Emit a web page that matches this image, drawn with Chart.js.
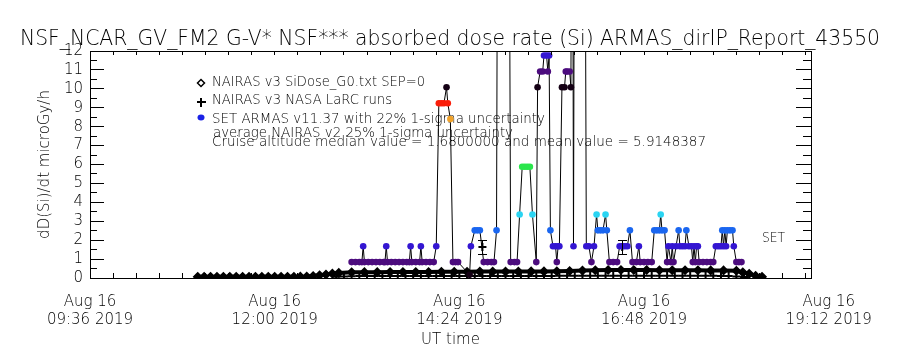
<!DOCTYPE html>
<html>
<head>
<meta charset="utf-8">
<title>ARMAS absorbed dose rate</title>
<script src="https://cdn.jsdelivr.net/npm/chart.js@4.4.1/dist/chart.umd.min.js"></script>
<style>
  html, body { margin: 0; padding: 0; background: #fff; }
  canvas { display: block; }
</style>
</head>
<body>
<canvas id="doseChart" width="900" height="350"></canvas>
<script>
// Axis ticks (UT on Aug 16 2019, dose rate in microGy/h)
const xTickHours = [9.6, 12.0, 14.4, 16.8, 19.2];
const xTickLabels = ['09:36', '12:00', '14:24', '16:48', '19:12'];
const yTicks = [0, 1, 2, 3, 4, 5, 6, 7, 8, 9, 10, 11, 12];

// NAIRAS v3 SiDose_G0.txt (diamonds)
const nairasTime = [
  '11:00', '11:05', '11:10', '11:15', '11:20', '11:25', '11:30', '11:35', '11:40', '11:45',
  '11:50', '11:55', '12:00', '12:05', '12:10', '12:15', '12:20', '12:25', '12:30', '12:35',
  '12:40', '12:45', '12:50', '13:00', '13:10', '13:20', '13:30', '13:40', '13:50', '14:00',
  '14:10', '14:20', '14:30', '14:40', '14:50', '15:00', '15:10', '15:20', '15:30', '15:40',
  '15:50', '16:00', '16:10', '16:20', '16:30', '16:40', '16:50', '17:00', '17:10', '17:20',
  '17:30', '17:40', '17:50', '18:00', '18:05', '18:10', '18:15', '18:20'
];
const nairasDose = [
  0.06, 0.06, 0.06, 0.06, 0.06, 0.06, 0.06, 0.06, 0.06, 0.06,
  0.06, 0.06, 0.06, 0.06, 0.06, 0.06, 0.07, 0.08, 0.10, 0.14,
  0.18, 0.23, 0.27, 0.30, 0.31, 0.31, 0.32, 0.32, 0.32, 0.32,
  0.33, 0.33, 0.33, 0.34, 0.34, 0.34, 0.34, 0.35, 0.35, 0.36,
  0.37, 0.39, 0.41, 0.42, 0.42, 0.42, 0.42, 0.41, 0.41, 0.41,
  0.41, 0.40, 0.40, 0.38, 0.30, 0.22, 0.12, 0.06
];

// NAIRAS v3 NASA LaRC runs (+)
const larcTime = [
  '12:48', '12:54', '13:00', '13:06', '13:12', '13:18', '13:24', '13:30', '13:36', '13:42',
  '13:48', '13:54', '14:00', '14:06', '14:12', '14:18', '14:24', '14:30', '14:36', '14:42',
  '14:48', '14:54', '15:00', '15:06', '15:12', '15:18', '15:24', '15:30', '15:36', '15:42',
  '15:48', '15:54', '16:00', '16:06', '16:12', '16:18', '16:24', '16:30', '16:36', '16:42',
  '16:48', '16:54', '17:00', '17:06', '17:12', '17:18', '17:24', '17:30', '17:36', '17:42',
  '17:48', '17:54', '18:00', '18:06'
];
const larcDose = [
  0.06, 0.08, 0.09, 0.10, 0.10, 0.10, 0.10, 0.10, 0.10, 0.10,
  0.10, 0.10, 0.10, 0.10, 0.10, 0.11, 0.11, 0.11, 0.11, 0.11,
  0.11, 0.11, 0.11, 0.11, 0.11, 0.11, 0.11, 0.11, 0.11, 0.12,
  0.12, 0.12, 0.12, 0.12, 0.12, 0.12, 0.12, 0.12, 0.12, 0.12,
  0.12, 0.12, 0.12, 0.12, 0.12, 0.12, 0.12, 0.12, 0.12, 0.12,
  0.11, 0.10, 0.08, 0.05
];
const larcRunTime = ['14:42', '16:31'];
const larcRunDose = [1.64, 1.64];
const larcRunLow = [1.27, 1.27];
const larcRunHigh = [2.00, 2.00];

// SET ARMAS v11.37, one-minute samples (values above 12 run off the top)
const armasTime = [
  '13:00', '13:03', '13:06', '13:08', '13:09', '13:10', '13:13', '13:16', '13:19', '13:22',
  '13:25', '13:26', '13:27', '13:28', '13:31', '13:34', '13:37', '13:40', '13:43', '13:45',
  '13:46', '13:47', '13:50', '13:53', '13:54', '13:55', '13:58', '14:01', '14:04', '14:06',
  '14:08', '14:10', '14:12', '14:14', '14:15', '14:17', '14:19', '14:21', '14:23',
  '14:32', '14:33', '14:36', '14:38', '14:40', '14:43', '14:46', '14:49', '14:51', '14:53',
  '14:54', '15:03', '15:04', '15:07', '15:09', '15:11', '15:13', '15:15', '15:17', '15:19', '15:21', '15:24',
  '15:25', '15:27', '15:29', '15:30', '15:32', '15:33', '15:34', '15:35', '15:37', '15:39', '15:40', '15:41', '15:42',
  '15:44', '15:46', '15:47', '15:48', '15:50', '15:51', '15:52', '15:53', '15:54', '16:02', '16:03', '16:05', '16:07', '16:09',
  '16:11', '16:12', '16:14', '16:16', '16:18', '16:19', '16:21', '16:24', '16:27', '16:29', '16:31', '16:33', '16:35', '16:37',
  '16:39', '16:42', '16:44', '16:45', '16:48', '16:51', '16:54', '16:56', '16:58', '17:00', '17:01', '17:02', '17:04',
  '17:06', '17:07', '17:09', '17:10', '17:11', '17:13', '17:15', '17:16', '17:18', '17:20', '17:21', '17:23', '17:25',
  '17:26', '17:27', '17:28', '17:29', '17:30', '17:31', '17:34', '17:37', '17:40', '17:42',
  '17:44', '17:46', '17:48', '17:49', '17:50', '17:51', '17:52', '17:53', '17:55', '17:57', '17:58', '18:00', '18:02', '18:04'
];
const armasDose = [
  0.84, 0.84, 0.84, 0.84, 1.68, 0.84, 0.84, 0.84, 0.84, 0.84,
  0.84, 0.84, 1.68, 0.84, 0.84, 0.84, 0.84, 0.84, 0.84, 0.84,
  1.68, 0.84, 0.84, 0.84, 1.68, 0.84, 0.84, 0.84, 0.84, 1.68,
  9.24, 9.24, 9.24, 10.08, 9.24, 8.40, 0.84, 0.84, 0.84,
  0.17, 1.68, 2.52, 2.52, 2.52, 0.84, 0.84, 0.84, 0.84, 2.52,
  26, 19, 0.84, 0.84, 0.84, 3.36, 5.88, 5.88, 5.88, 5.88, 3.36, 0.84,
  10.08, 10.92, 10.92, 11.76, 11.76, 10.92, 11.76, 2.52, 1.68, 1.68, 0.84, 1.68, 1.68,
  10.08, 10.08, 10.92, 10.92, 10.92, 10.08, 34, 1.68, 28, 22, 1.68, 1.68, 0.84, 1.68,
  3.36, 2.52, 2.52, 2.52, 3.36, 2.52, 0.84, 0.84, 0.84, 1.68, 1.68, 1.68, 1.68, 2.52,
  0.84, 0.84, 1.68, 0.84, 0.84, 0.84, 0.84, 2.52, 2.52, 2.52, 3.36, 2.52, 2.52,
  0.84, 1.68, 0.84, 1.68, 0.84, 1.68, 2.52, 1.68, 1.68, 1.68, 2.52, 1.68, 1.68,
  0.84, 1.68, 0.84, 1.68, 1.68, 0.84, 0.84, 0.84, 0.84, 0.84,
  1.68, 1.68, 1.68, 2.52, 1.68, 2.52, 1.68, 2.52, 2.52, 2.52, 1.68, 0.84, 0.84, 0.84
];

const titleText = 'NSF_NCAR_GV_FM2 G-V* NSF*** absorbed dose rate (Si) ARMAS_dirIP_Report_43550';
const legendText = [
  'NAIRAS v3 SiDose_G0.txt SEP=0',
  'NAIRAS v3 NASA LaRC runs',
  'SET ARMAS v11.37 with 22% 1-sigma uncertainty',
  'average NAIRAS v2 25% 1-sigma uncertainty',
  'Cruise altitude median value = 1.6800000 and mean value = 5.9148387'
];

const FONT = '"DejaVu Sans", "Liberation Sans", sans-serif';
const X_MAX = 18.97;

function hours(s) {
  const [h, m] = s.split(':').map(Number);
  return h + m / 60;
}

function toPoints(times, values) {
  return times.map((t, i) => ({ x: hours(t), y: values[i] }));
}

// tick marks every 0.3 h and every 0.5 microGy/h, labels only on the major ones
const xTickMarks = [];
for (let k = 0; xTickHours[0] + 0.3 * k <= X_MAX; k++) xTickMarks.push(+(xTickHours[0] + 0.3 * k).toFixed(2));
const yTickMarks = [];
for (let k = 0; k <= 24; k++) yTickMarks.push(k / 2);

// colour table of the ARMAS symbols wraps round above ~10 microGy/h
function armasColour(v) {
  const w = v % 10.08;
  if (w < 0.4) return '#140014';
  if (w < 1.2) return '#4c0c7e';
  if (w < 2.1) return '#3416d2';
  if (w < 2.9) return '#1a66f0';
  if (w < 4.5) return '#2ad4f2';
  if (w < 7) return '#2ae64c';
  if (w < 8.8) return '#f0a22a';
  return '#fa1e0a';
}

// squeeze/stretch a string to the width it has in the plot
function fitText(ctx, text, x, y, width) {
  const w = ctx.measureText(text).width;
  ctx.save();
  ctx.translate(x, y);
  ctx.scale(width / w, 1);
  ctx.fillText(text, 0, 0);
  ctx.restore();
}

const notes = {
  id: 'notes',
  beforeDatasetsDraw(chart) {
    const ctx = chart.ctx;
    ctx.save();
    ctx.fillStyle = '#000';
    ctx.textBaseline = 'alphabetic';
    ctx.textAlign = 'left';
    ctx.font = '200 21px ' + FONT;
    fitText(ctx, titleText, 20, 45, 860);

    ctx.font = '200 14px ' + FONT;
    const rows = [[212, 86, 213], [212, 104, 180], [212, 123, 333], [213, 137, 300], [212, 146, 494]];
    legendText.forEach((t, i) => fitText(ctx, t, rows[i][0], rows[i][1], rows[i][2]));
    fitText(ctx, 'SET', 762, 242, 23);

    // legend symbols
    ctx.fillRect(197, 101, 9, 2);
    ctx.fillRect(200, 98, 2, 9);
    ctx.strokeStyle = '#000';
    ctx.lineWidth = 1.5;
    ctx.beginPath();
    ctx.moveTo(201, 79.5); ctx.lineTo(204.5, 83); ctx.lineTo(201, 86.5); ctx.lineTo(197.5, 83); ctx.closePath();
    ctx.stroke();
    ctx.fillStyle = '#1a22e6';
    ctx.beginPath();
    ctx.ellipse(201, 117.5, 3.5, 3, 0, 0, Math.PI * 2);
    ctx.fill();
    ctx.restore();
  }
};

// error bars of the LaRC runs
const errorBars = {
  id: 'errorBars',
  afterDatasetsDraw(chart) {
    const { ctx, scales: { x, y } } = chart;
    ctx.save();
    ctx.fillStyle = '#000';
    larcRunTime.forEach((t, i) => {
      const px = Math.round(x.getPixelForValue(hours(t)));
      const lo = Math.round(y.getPixelForValue(larcRunLow[i]));
      const hi = Math.round(y.getPixelForValue(larcRunHigh[i]));
      ctx.fillRect(px, hi, 1, lo - hi + 1);
      ctx.fillRect(px - 4, lo, 9, 1);
      ctx.fillRect(px - 4, hi, 9, 1);
    });
    ctx.restore();
  }
};

const tickFont = { family: FONT, size: 15, weight: '200', lineHeight: 1.2 };
const frameBorder = { display: true, color: '#000', width: 1, z: 1 };
const tickColour = c => (c.tick && c.tick.value > X_MAX + 1e-6) ? 'rgba(0,0,0,0)' : '#000';

new Chart(document.getElementById('doseChart'), {
  type: 'scatter',
  data: {
    datasets: [
      {
        label: 'SET ARMAS v11.37 with 22% 1-sigma uncertainty',
        data: toPoints(armasTime, armasDose),
        showLine: true,
        borderColor: '#000',
        borderWidth: 1,
        pointRadius: 3.3,
        pointBorderWidth: 0,
        pointBackgroundColor: ctx => armasColour(ctx.raw ? ctx.raw.y : 0),
        order: 0
      },
      {
        label: 'NAIRAS v3 NASA LaRC runs',
        data: toPoints(larcTime.concat(larcRunTime), larcDose.concat(larcRunDose)),
        showLine: false,
        pointStyle: 'cross',
        pointRadius: 4,
        pointBorderWidth: 2,
        pointBorderColor: '#000',
        order: 1
      },
      {
        label: 'NAIRAS v3 SiDose_G0.txt SEP=0',
        data: toPoints(nairasTime, nairasDose),
        showLine: true,
        borderColor: '#000',
        borderWidth: 4,
        pointStyle: 'rectRot',
        pointRadius: 4,
        pointBorderWidth: 1.5,
        pointBorderColor: '#000',
        pointBackgroundColor: '#000',
        order: 2
      }
    ]
  },
  options: {
    responsive: false,
    animation: false,
    devicePixelRatio: 1,
    layout: { padding: 0 },
    plugins: {
      legend: { display: false },
      title: { display: false },
      tooltip: { enabled: false }
    },
    scales: {
      x: {
        type: 'linear',
        position: 'bottom',
        min: 9.6,
        max: X_MAX,
        border: frameBorder,
        grid: { drawOnChartArea: false, drawTicks: true, tickLength: -5, color: tickColour, z: 1 },
        afterBuildTicks: s => { s.ticks = xTickMarks.concat([xTickHours[4]]).map(v => ({ value: v })); },
        afterFit: s => { s.height = 72; s.paddingLeft = 0; s.paddingRight = 0; },
        ticks: {
          autoSkip: false,
          maxRotation: 0,
          padding: 20,
          color: '#000',
          font: tickFont,
          callback: v => {
            const i = xTickHours.findIndex(m => Math.abs(m - v) < 1e-6);
            return i < 0 ? '' : ['Aug 16', xTickLabels[i] + ' 2019'];
          }
        },
        title: { display: true, text: 'UT time', color: '#000', font: tickFont, padding: { top: 0, bottom: 1 } }
      },
      xTop: {
        type: 'linear',
        position: 'top',
        min: 9.6,
        max: X_MAX,
        border: frameBorder,
        grid: { drawOnChartArea: false, drawTicks: true, tickLength: -4, color: '#000', z: 1 },
        afterBuildTicks: s => { s.ticks = xTickMarks.map(v => ({ value: v })); },
        afterFit: s => { s.height = 51; s.paddingLeft = 0; s.paddingRight = 0; },
        ticks: { display: false }
      },
      y: {
        position: 'left',
        weight: 1,
        min: 0,
        max: 12,
        border: frameBorder,
        grid: { drawOnChartArea: false, drawTicks: true, tickLength: -14, color: '#000', z: 1 },
        afterBuildTicks: s => { s.ticks = yTicks.map(v => ({ value: v })); },
        afterFit: s => { s.width = 90; s.paddingTop = 0; s.paddingBottom = 0; },
        ticks: { autoSkip: false, padding: 21, color: '#000', font: tickFont },
        title: { display: true, text: 'dD(Si)/dt microGy/h', color: '#000', font: tickFont, padding: { top: 36, bottom: 0 } }
      },
      yMinorLeft: {
        position: 'left',
        weight: 0,
        min: 0,
        max: 12,
        border: { display: false },
        grid: { drawOnChartArea: false, drawTicks: true, tickLength: -7, color: '#000', z: 1 },
        afterBuildTicks: s => { s.ticks = yTickMarks.map(v => ({ value: v })); },
        afterFit: s => { s.width = 0; s.paddingTop = 0; s.paddingBottom = 0; },
        ticks: { display: false }
      },
      yRightMajor: {
        position: 'right',
        weight: 0,
        min: 0,
        max: 12,
        border: { display: false },
        grid: { drawOnChartArea: false, drawTicks: true, tickLength: -15, color: '#000', z: 1 },
        afterBuildTicks: s => { s.ticks = yTicks.map(v => ({ value: v })); },
        afterFit: s => { s.width = 0; s.paddingTop = 0; s.paddingBottom = 0; },
        ticks: { display: false }
      },
      yRight: {
        position: 'right',
        weight: 1,
        min: 0,
        max: 12,
        border: frameBorder,
        grid: { drawOnChartArea: false, drawTicks: true, tickLength: -8, color: '#000', z: 1 },
        afterBuildTicks: s => { s.ticks = yTickMarks.map(v => ({ value: v })); },
        afterFit: s => { s.width = 89; s.paddingTop = 0; s.paddingBottom = 0; },
        ticks: { display: false }
      }
    }
  },
  plugins: [notes, errorBars]
});
</script>
</body>
</html>
